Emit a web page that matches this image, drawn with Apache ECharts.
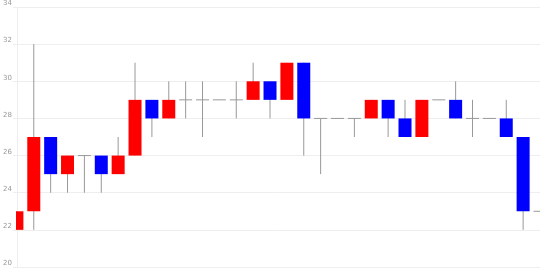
<!DOCTYPE html>
<html>
<head>
<meta charset="utf-8">
<script src="https://cdn.jsdelivr.net/npm/echarts@6/dist/echarts.min.js"></script>
<style>html,body{margin:0;padding:0;background:#fff}#c{width:540px;height:270px}</style>
</head>
<body>
<div id="c"></div>
<script>
const categories = ["1","2","3","4","5","6","7","8","9","10","11","12","13","14","15","16","17","18","19","20","21","22","23","24","25","26","27","28","29","30","31","32"];
const openV  = [22,23,27,25,26,26,25,26,29,28,29,29,29,29,29,30,29,31,28,28,28,28,29,28,27,29,29,28,28,28,27,23];
const closeV = [23,27,25,26,26,25,26,29,28,29,29,29,29,29,30,29,31,28,28,28,28,29,28,27,29,29,28,28,28,27,23,23];
const lowV   = [22,22,24,24,24,24,25,26,27,28,28,27,29,28,29,28,29,26,25,28,27,28,27,27,27,29,28,27,28,27,22,23];
const highV  = [23,32,27,26,26,26,27,31,29,30,30,30,29,30,31,30,31,31,28,28,28,29,29,29,29,29,30,29,28,29,27,23];
const yTicks = [20,22,24,26,28,30,32,34];

const UP = '#ff0000', DOWN = '#0000ff', WICK = '#999999';
const data = categories.map((c, i) => [i, openV[i], closeV[i], lowV[i], highV[i]]);

function renderItem(params, api) {
  const i = api.value(0);
  const o = api.value(1), c = api.value(2), l = api.value(3), h = api.value(4);
  const pO = api.coord([i, o]);
  const pC = api.coord([i, c]);
  const pL = api.coord([i, l]);
  const pH = api.coord([i, h]);
  const x = pO[0];
  const w = 13;
  const children = [];
  if (h > l) {
    children.push({type: 'line', shape: {x1: x, y1: pH[1], x2: x, y2: pL[1]}, style: {stroke: WICK, lineWidth: 1}});
  }
  if (o === c) {
    children.push({type: 'line', shape: {x1: x - w / 2, y1: pO[1], x2: x + w / 2, y2: pO[1]}, style: {stroke: WICK, lineWidth: 1}});
  } else {
    const top = Math.min(pO[1], pC[1]);
    const bot = Math.max(pO[1], pC[1]);
    children.push({type: 'rect', shape: {x: x - w / 2, y: top, width: w, height: bot - top}, style: {fill: c > o ? UP : DOWN}});
  }
  return {type: 'group', children: children};
}

const chart = echarts.init(document.getElementById('c'), null, {renderer: 'canvas'});
chart.setOption({
  animation: false,
  grid: {left: 16, right: 0, top: 3, bottom: 3},
  xAxis: {
    type: 'category',
    data: categories,
    boundaryGap: false,
    axisLine: {show: false},
    axisTick: {show: false},
    axisLabel: {show: false},
    splitLine: {show: false}
  },
  yAxis: {
    type: 'value',
    min: yTicks[0],
    max: yTicks[yTicks.length - 1],
    interval: 2,
    axisLine: {show: true, lineStyle: {color: '#eeeeee'}},
    axisTick: {show: true, length: 4, lineStyle: {color: '#eeeeee'}},
    axisLabel: {fontSize: 7, color: '#999999', margin: 5, verticalAlign: 'bottom', fontFamily: 'DejaVu Sans'},
    splitLine: {lineStyle: {color: '#eeeeee'}}
  },
  series: [
    {
      type: 'custom',
      renderItem: renderItem,
      data: data,
      clip: true,
      encode: {x: 0, y: [1, 2, 3, 4]}
    }
  ]
});
</script>
</body>
</html>
